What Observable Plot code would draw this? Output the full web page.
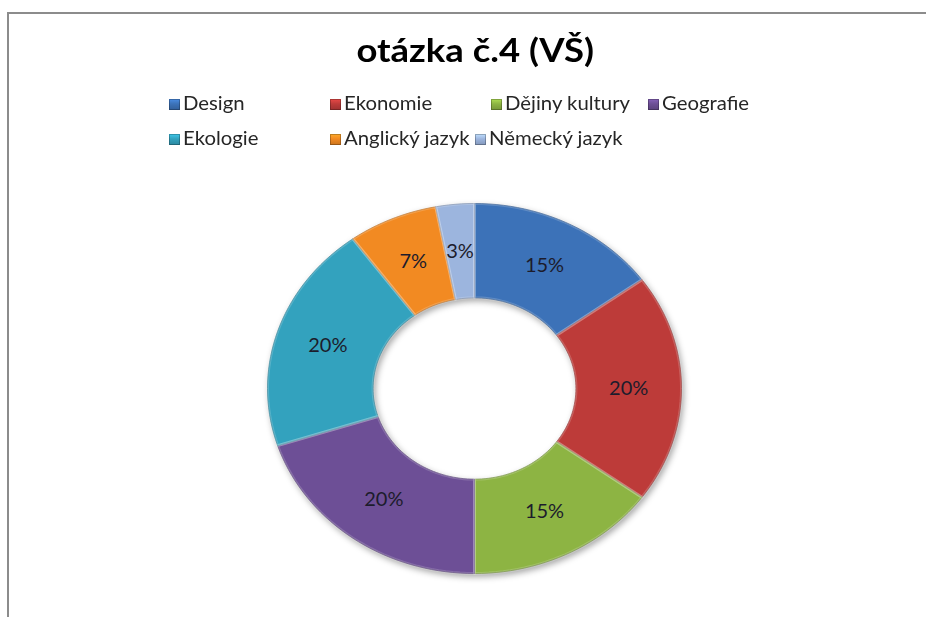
<!DOCTYPE html>
<html>
<head>
<meta charset="utf-8">
<script src="https://cdn.jsdelivr.net/npm/d3@7"></script>
<script src="https://cdn.jsdelivr.net/npm/@observablehq/plot@0.6"></script>
<style>
  html, body { margin: 0; padding: 0; background: #fff; overflow: hidden; }
  #page { position: relative; width: 926px; height: 617px; overflow: hidden; font-family: Lato, "Open Sans", sans-serif; }
  #frame { position: absolute; left: 7px; top: 12px; width: 940px; height: 640px; border: 2px solid #8c8c8c; box-sizing: border-box; }
  #title { position: absolute; left: 0; width: 950px; top: 30px; text-align: center; }
  #title span { display: inline-block; font-weight: bold; font-size: 32px; color: #000; transform: scaleX(1.14); transform-origin: center; }
  .leg { position: absolute; font-size: 19px; color: #262626; white-space: nowrap; line-height: 20px; }
  .leg .sq { display: inline-block; width: 11px; height: 11px; margin-right: 3px; vertical-align: 0px; box-shadow: inset 0 0 0 1px rgba(0,0,0,0.25); }
  .leg .tx { display: inline-block; transform: scaleX(1.07); transform-origin: left center; }
  #chart { position: absolute; left: 0; top: 0; }
  .ring { filter: drop-shadow(2px 3px 3px rgba(0,0,0,0.35)); }
</style>
</head>
<body>
<div id="page">
  <div id="frame"></div>
  <div id="title"><span></span></div>
  <div id="legend"></div>
  <div id="chart"></div>
</div>
<script>
// ---- data ----
const title = "otázka č.4 (VŠ)";
const categories = ["Design", "Ekonomie", "Dějiny kultury", "Geografie", "Ekologie", "Anglický jazyk", "Německý jazyk"];
const values = [15, 20, 15, 20, 20, 7, 3];
const labels = ["15%", "20%", "15%", "20%", "20%", "7%", "3%"];
const colors = ["#3c72b8", "#bd3b39", "#8db443", "#6d4f96", "#33a2be", "#f28a22", "#9cb5de"];

// ---- layout (not data) ----
const legendPos = [[169, 93], [330, 93], [491, 93], [648, 93], [169, 128], [330, 128], [475, 128]];
const innerRatio = 0.49;

document.querySelector("#title span").textContent = title;

// legend
const legend = document.getElementById("legend");
categories.forEach((c, i) => {
  const el = document.createElement("div");
  el.className = "leg";
  el.style.left = legendPos[i][0] + "px";
  el.style.top = legendPos[i][1] + "px";
  const sq = document.createElement("span");
  sq.className = "sq";
  const col = d3.color(colors[i]);
  sq.style.background = `linear-gradient(180deg, ${col.brighter(0.6)} 0%, ${col} 45%, ${col.darker(0.5)} 100%)`;
  el.appendChild(sq);
  const tx = document.createElement("span");
  tx.className = "tx";
  tx.textContent = c;
  el.appendChild(tx);
  legend.appendChild(el);
});

// donut geometry from values
const total = d3.sum(values);
const cum = d3.cumsum(values);
const slices = categories.map((name, i) => {
  const a0 = (cum[i] - values[i]) / total * 2 * Math.PI;
  const a1 = cum[i] / total * 2 * Math.PI;
  const am = (a0 + a1) / 2;
  const rm = (1 + innerRatio) / 2;
  return {name, a0, a1, label: labels[i], color: colors[i],
          edge: d3.color(colors[i]).darker(0.8).formatHex(),
          lx: Math.sin(am) * rm, ly: Math.cos(am) * rm};
});
const points = [];
for (const s of slices) {
  const n = Math.max(2, Math.ceil((s.a1 - s.a0) / (2 * Math.PI) * 180));
  const pts = [];
  for (let k = 0; k <= n; k++) {
    const a = s.a0 + (s.a1 - s.a0) * k / n;
    pts.push([Math.sin(a), Math.cos(a)]);
  }
  for (let k = n; k >= 0; k--) {
    const a = s.a0 + (s.a1 - s.a0) * k / n;
    pts.push([Math.sin(a) * innerRatio, Math.cos(a) * innerRatio]);
  }
  pts.push(pts[0]);
  for (const [x, y] of pts) points.push({name: s.name, x, y, color: s.color, edge: s.edge});
}

const plot = Plot.plot({
  width: 926,
  height: 617,
  marginLeft: 267,
  marginRight: 245,
  marginTop: 203,
  marginBottom: 44,
  x: {domain: [-1, 1], axis: null},
  y: {domain: [-1, 1], axis: null},
  color: {type: "identity"},
  style: {fontFamily: "Lato, 'Open Sans', sans-serif", background: "transparent"},
  marks: [
    Plot.line(points, {x: "x", y: "y", z: "name", fill: "color", stroke: "edge", strokeWidth: 0.8, curve: "linear", className: "ring"}),
    Plot.line(points, {x: "x", y: "y", z: "name", fill: "none", stroke: "#ffffff", strokeOpacity: 0.18, strokeWidth: 3, curve: "linear"}),
    Plot.text(slices, {x: "lx", y: "ly", text: "label", fontSize: 20, fill: "#1c1c2c"})
  ]
});
document.getElementById("chart").appendChild(plot);
</script>
</body>
</html>
